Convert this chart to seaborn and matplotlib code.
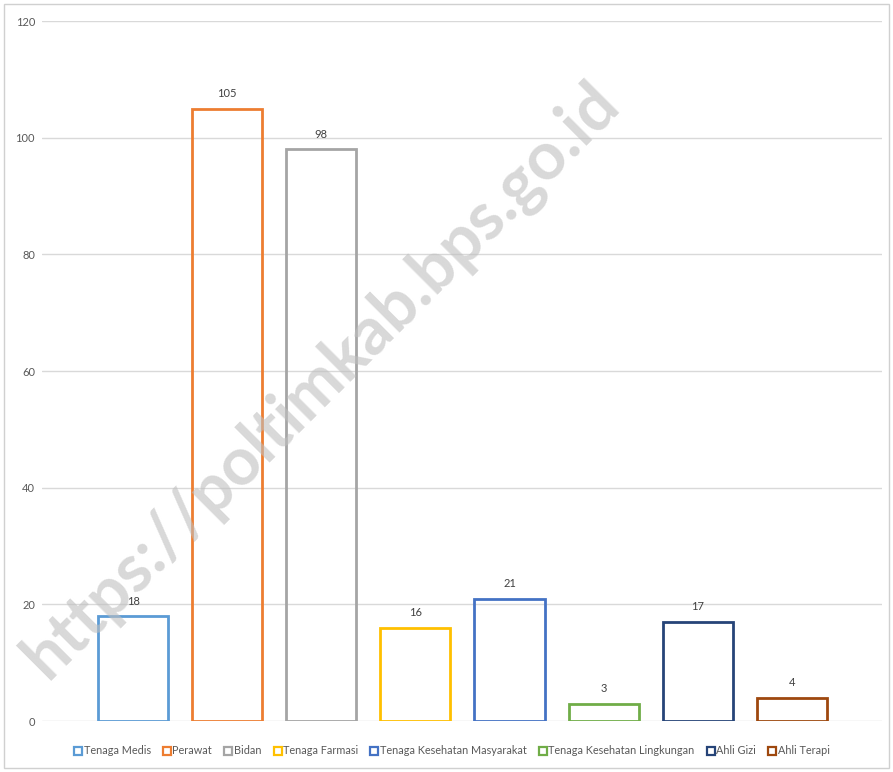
import matplotlib
matplotlib.use('Agg')
import matplotlib.pyplot as plt
import matplotlib.patches as mpatches
from matplotlib.lines import Line2D
import pandas as pd
import seaborn as sns

# data
kategori = ['Tenaga Medis', 'Perawat', 'Bidan', 'Tenaga Farmasi',
            'Tenaga Kesehatan Masyarakat', 'Tenaga Kesehatan Lingkungan',
            'Ahli Gizi', 'Ahli Terapi']
jumlah = [18, 105, 98, 16, 21, 3, 17, 4]
warna = ['#5B9BD5', '#ED7D31', '#A5A5A5', '#FFC000',
         '#4472C4', '#70AD47', '#264478', '#9E480E']
y_ticks = [0, 20, 40, 60, 80, 100, 120]

df = pd.DataFrame({'kategori': kategori, 'jumlah': jumlah})

sns.set_theme(style='white')
plt.rcParams['font.family'] = ['Lato', 'DejaVu Sans']

fig = plt.figure(figsize=(8.93, 7.72), dpi=100)
ax = fig.add_axes([42 / 893, 1 - 721 / 772, 840 / 893, 700 / 772])

sns.barplot(data=df, x='kategori', y='jumlah', hue='kategori', palette=warna,
            fill=False, linewidth=2.0, width=0.745, legend=False, ax=ax)

# data labels
for i, v in enumerate(jumlah):
    ax.text(i, v + 1.6, str(v), ha='center', va='bottom', fontsize=8, color='#404040')

ax.set_ylim(0, 120)
ax.set_xlim(-0.97, 7.96)
ax.set_yticks(y_ticks)
ax.set_yticklabels([str(t) for t in y_ticks], fontsize=8, color='#595959')
ax.set_xticks([])
ax.set_xlabel('')
ax.set_ylabel('')
ax.tick_params(axis='y', length=0, pad=5)
ax.grid(axis='y', color='#d9d9d9', linewidth=1)
ax.set_axisbelow(True)
for s in ax.spines.values():
    s.set_visible(False)

# legend at the bottom
handles = [Line2D([0], [0], marker='s', linestyle='none', markersize=6,
                  markerfacecolor='white', markeredgecolor=c, markeredgewidth=1.6)
           for c in warna]
fig.legend(handles, kategori, loc='center', bbox_to_anchor=(0.506, 1 - 751 / 772),
           ncol=8, frameon=False, fontsize=7.8, handletextpad=0.1, columnspacing=1.1,
           handlelength=0.8, labelcolor='#595959')

# watermark
fig.text(322 / 893, 1 - 380 / 772, 'https://poltimkab.bps.go.id', rotation=45,
         ha='center', va='center', fontsize=48, fontweight='bold',
         color='#bfbfbf', alpha=0.6, zorder=10)

# outer border
fig.patches.append(mpatches.Rectangle((4 / 893, 4 / 772), 885 / 893, 764 / 772,
                                      transform=fig.transFigure, fill=False,
                                      edgecolor='#d0d0d0', linewidth=1))

fig.savefig('out.png', dpi=100)
